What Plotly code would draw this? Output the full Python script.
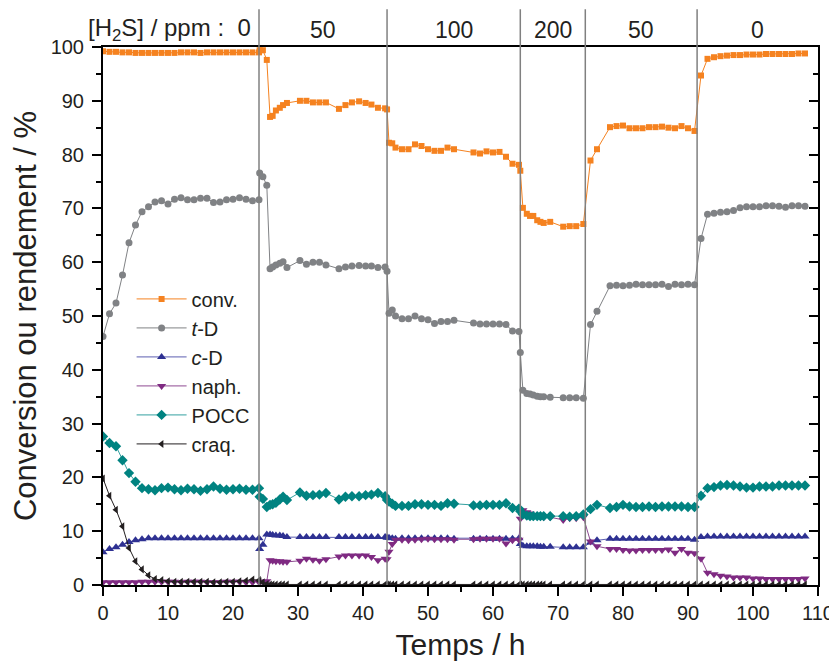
import plotly.graph_objects as go

# ---- data ----
temps = ([float(h) for h in range(0, 25)] +
         [24.1, 24.6, 25.2, 25.7, 26.1, 26.6, 27.2, 27.7, 28.3, 30.3, 31.3, 32.3, 33.3, 34.3,
          36.3, 37.3, 38.3, 39.4, 40.4, 41.3, 42.3, 43.4, 43.7] +
         [44.0, 44.5, 45, 46, 47, 48, 49, 50, 51, 52, 53, 54, 57, 58, 59, 60, 61, 62, 63, 64, 64.2] +
         [64.6, 65.2, 65.7, 66.2, 66.8, 67.3, 67.8, 68.8, 70.8, 71.8, 72.8, 73.9] +
         [75, 76, 78, 79, 80, 81, 82, 83, 84, 85, 86, 87, 88, 89, 90, 91] +
         [float(h) for h in range(92, 109)])

conv = ([99.2, 99.1, 99.1, 99.0, 99.0, 98.9, 98.9, 98.9, 98.9, 98.9, 98.9, 98.9, 99.0, 99.0, 99.0,
         98.9, 99.0, 99.0, 99.0, 99.0, 99.0, 99.0, 99.0, 99.0, 99.0] +
        [99.4, 99.4, 97.6, 87.0, 87.2, 88.2, 88.7, 89.2, 89.6, 90.0, 90.0, 89.7, 89.7, 89.7, 88.5,
         89.2, 89.7, 89.9, 89.6, 89.3, 88.7, 88.6, 88.4] +
        [82.2, 82.1, 81.3, 81.0, 81.0, 81.9, 81.6, 81.0, 80.7, 80.7, 81.3, 81.0, 80.4, 80.2, 80.6,
         80.4, 80.5, 79.6, 78.3, 78.1, 77.0] +
        [70.1, 69.0, 68.6, 68.6, 67.8, 67.5, 67.3, 67.5, 66.6, 66.7, 66.7, 67.1] +
        [78.9, 81.0, 85.1, 85.3, 85.4, 84.9, 84.9, 84.9, 85.1, 85.1, 85.2, 85.0, 84.9, 85.3, 84.9, 84.4] +
        [94.7, 97.8, 98.1, 98.3, 98.4, 98.5, 98.5, 98.6, 98.6, 98.6, 98.7, 98.7, 98.7, 98.7, 98.7, 98.8, 98.8])

t_D = ([46.2, 50.4, 52.4, 57.6, 63.6, 66.9, 69.4, 70.3, 71.2, 71.4, 70.8, 71.7, 72.0, 71.6, 71.6,
        71.9, 71.9, 71.1, 71.2, 71.6, 71.7, 72.0, 71.7, 71.4, 71.6] +
       [76.6, 75.9, 74.3, 58.8, 59.1, 59.5, 59.8, 60.1, 59.0, 60.3, 59.6, 60.0, 60.0, 59.5, 58.8,
        59.1, 59.3, 59.4, 59.3, 59.3, 59.0, 59.1, 58.3] +
       [50.5, 51.1, 50.0, 49.5, 49.5, 50.0, 49.5, 49.3, 48.6, 49.0, 49.0, 49.2, 48.7, 48.5, 48.5,
        48.5, 48.5, 48.4, 47.2, 47.1, 43.2] +
       [36.2, 35.6, 35.5, 35.3, 35.1, 35.0, 35.0, 34.9, 34.8, 34.8, 34.8, 34.7] +
       [48.4, 50.9, 55.6, 55.7, 55.6, 55.7, 55.9, 55.8, 55.8, 55.8, 55.9, 55.5, 55.9, 55.8, 55.9, 55.8] +
       [64.4, 68.9, 69.1, 69.3, 69.4, 69.6, 70.1, 70.3, 70.3, 70.3, 70.5, 70.5, 70.4, 70.2, 70.5, 70.5, 70.4])

c_D = ([6.1, 6.7, 7.0, 7.5, 8.0, 8.3, 8.5, 8.7, 8.7, 8.7, 8.7, 8.7, 8.7, 8.7, 8.7, 8.7, 8.7, 8.7,
        8.7, 8.7, 8.7, 8.7, 8.7, 8.7, 8.7] +
       [6.7, 7.5, 9.4, 9.4, 9.3, 9.2, 9.2, 9.1, 8.9, 8.9, 8.9, 8.9, 8.9, 8.9, 8.9, 8.9, 8.9, 8.9,
        8.9, 8.9, 8.9, 8.9, 8.8] +
       [8.8, 8.7, 8.6, 8.7, 8.7, 8.7, 8.7, 8.7, 8.7, 8.7, 8.7, 8.6, 8.6, 8.6, 8.6, 8.6, 8.6, 8.6,
        8.6, 8.7, 7.6] +
       [7.3, 7.2, 7.2, 7.2, 7.2, 7.1, 7.1, 7.1, 7.0, 7.0, 7.0, 7.0] +
       [7.9, 8.3, 8.6, 8.6, 8.6, 8.6, 8.6, 8.6, 8.6, 8.6, 8.6, 8.6, 8.6, 8.6, 8.6, 8.4] +
       [8.9, 9.0, 9.0, 9.0, 9.0, 9.0, 9.0, 9.0, 9.0, 9.0, 9.0, 9.0, 9.0, 9.0, 9.0, 9.0, 9.0])

naph = ([0.5, 0.5, 0.5, 0.5, 0.5, 0.5, 0.6, 0.6, 0.6, 0.6, 0.6, 0.6, 0.5, 0.6, 0.6, 0.6, 0.5, 0.5,
         0.5, 0.6, 0.6, 0.6, 0.5, 0.5, 0.5] +
        [0.6, 0.6, 0.7, 4.6, 4.5, 4.4, 4.4, 4.3, 4.3, 4.5, 4.9, 4.7, 4.5, 4.8, 5.3, 5.5, 5.5, 5.5,
         5.5, 5.2, 4.6, 4.9, 4.8] +
        [6.2, 7.6, 8.4, 8.4, 8.3, 8.4, 8.5, 8.6, 8.5, 8.5, 8.5, 8.4, 8.5, 8.6, 8.6, 8.6, 8.6, 7.7,
         8.3, 8.4, 12.3] +
        [13.9, 13.5, 13.3, 13.0, 12.8, 12.7, 12.6, 12.6, 12.1, 12.4, 12.4, 12.6] +
        [8.1, 7.2, 6.7, 6.7, 6.5, 6.4, 6.4, 6.5, 6.5, 6.5, 6.5, 6.6, 6.0, 6.7, 6.0, 5.9] +
        [4.9, 2.3, 2.0, 1.7, 1.6, 1.4, 1.4, 1.4, 1.2, 1.2, 1.1, 1.1, 1.1, 1.1, 1.1, 1.1, 1.2])

pocc = ([27.6, 26.4, 25.8, 23.2, 20.8, 19.2, 18.0, 17.8, 17.6, 18.0, 18.1, 17.8, 17.6, 17.9, 17.8,
         17.5, 17.8, 18.3, 17.9, 17.7, 17.8, 17.9, 17.7, 17.7, 18.0] +
        [16.4, 16.0, 14.5, 14.9, 15.0, 15.3, 15.9, 16.4, 15.8, 17.2, 16.6, 16.7, 16.8, 17.1, 15.9,
         16.4, 16.5, 16.5, 16.7, 16.8, 17.1, 16.5, 15.8] +
        [15.5, 15.1, 14.7, 14.7, 14.7, 15.0, 15.0, 14.9, 14.9, 14.7, 15.2, 15.1, 14.8, 14.8, 14.9,
         14.9, 14.9, 15.2, 14.3, 14.2, 13.7] +
        [13.1, 12.9, 12.8, 12.8, 12.8, 12.8, 12.8, 12.8, 12.8, 12.7, 12.8, 13.1] +
        [14.1, 14.9, 14.3, 14.5, 14.9, 14.6, 14.5, 14.5, 14.6, 14.5, 14.6, 14.6, 14.6, 14.6, 14.5, 14.5] +
        [16.6, 18.0, 18.2, 18.5, 18.6, 18.5, 18.3, 18.1, 18.1, 18.3, 18.3, 18.3, 18.5, 18.5, 18.5, 18.5, 18.5])

craq = ([19.8, 16.6, 14.0, 10.9, 6.9, 4.4, 2.9, 1.8, 1.1, 0.9, 0.7, 0.6, 0.6, 0.6, 0.6, 0.6, 0.6,
         0.5, 0.5, 0.6, 0.6, 0.7, 0.8, 1.0, 0.9] +
        [0.7, 0.5, 0.2] + [0.1] * 20 +
        [0.1] * 21 + [0.1] * 12 + [0.1] * 16 + [0.1] * 17)

# H2S concentration changes
changements_h2s = [24.0, 43.7, 64.2, 74.2, 91.4]
bornes = [0.0] + changements_h2s + [110.0]
niveaux_h2s = ["0", "50", "100", "200", "50", "0"]

# ---- figure ----
FONT = "Liberation Sans, Arial, sans-serif"
TXT = "#231F20"

series = [
    ("conv.", conv, "#F58220", "#F58220", "square", 6),
    ("<i>t</i>-D", t_D, "#808285", "#808285", "circle", 7),
    ("<i>c</i>-D", c_D, "#2E3192", "#5B5EB0", "triangle-up", 8),
    ("naph.", naph, "#7F2A82", "#8E4A91", "triangle-down", 8),
    ("POCC", pocc, "#008381", "#33A0A0", "diamond", 8),
    ("craq.", craq, "#231F20", "#231F20", "triangle-left", 7),
]

fig = go.Figure()
for name, vals, mcol, lcol, sym, size in series:
    fig.add_trace(go.Scatter(
        x=temps, y=vals, name=name, mode="lines+markers",
        line=dict(color=lcol, width=1),
        marker=dict(symbol=sym, size=size, color=mcol, line=dict(width=0)),
    ))

# right-side inward ticks
fig.add_trace(go.Scatter(x=temps[:1], y=conv[:1], yaxis="y2", mode="markers",
                         marker=dict(opacity=0), showlegend=False, hoverinfo="skip"))

for xv in changements_h2s:
    fig.add_shape(type="line", xref="x", yref="paper", x0=xv, x1=xv, y0=0, y1=1.07,
                  line=dict(color="#808080", width=1.5), layer="above")

fig.add_annotation(x=bornes[1], y=1.032, xref="x", yref="paper", xanchor="right", yanchor="middle",
                   xshift=-6, showarrow=False,
                   text="[H<sub>2</sub>S] / ppm :  " + niveaux_h2s[0],
                   font=dict(family=FONT, size=24, color=TXT))
for i in range(1, len(niveaux_h2s)):
    fig.add_annotation(x=(bornes[i] + bornes[i + 1]) / 2, y=1.032, xref="x", yref="paper",
                       xanchor="center", yanchor="middle", showarrow=False,
                       text=niveaux_h2s[i], font=dict(family=FONT, size=23, color=TXT))

# the page body adds an 8 px offset; margins are shifted accordingly
fig.update_layout(
    width=837, height=660,
    margin=dict(l=95, r=27, t=39, b=83, autoexpand=False),
    paper_bgcolor="white", plot_bgcolor="white",
    font=dict(family=FONT, size=20, color=TXT),
    showlegend=True,
    legend=dict(x=0.04, y=0.568, xanchor="left", yanchor="top", bgcolor="rgba(0,0,0,0)",
                font=dict(family=FONT, size=20, color=TXT), itemwidth=50, tracegroupgap=0),
    xaxis=dict(range=[0, 110], dtick=10, tick0=0, showgrid=False, zeroline=False, automargin=False,
               showline=True, linecolor="black", linewidth=2, mirror=True,
               ticks="outside", ticklen=9, tickwidth=1.5, tickcolor="black",
               minor=dict(dtick=5, ticks="outside", ticklen=5, tickwidth=1.5, tickcolor="black"),
               tickfont=dict(size=20),
               title=dict(text="Temps / h", font=dict(size=30), standoff=11)),
    yaxis=dict(range=[0, 100], dtick=10, tick0=0, showgrid=False, zeroline=False, automargin=False,
               showline=True, linecolor="black", linewidth=2, mirror=True,
               ticks="outside", ticklen=9, tickwidth=1.5, tickcolor="black",
               minor=dict(dtick=5, ticks="outside", ticklen=5, tickwidth=1.5, tickcolor="black"),
               tickfont=dict(size=20), ticklabelstandoff=4,
               title=dict(text="Conversion ou rendement / %", font=dict(size=31), standoff=17)),
    yaxis2=dict(range=[0, 100], overlaying="y", side="right", dtick=10, tick0=0, automargin=False,
                showgrid=False, zeroline=False, showline=False, showticklabels=False,
                ticks="inside", ticklen=9, tickwidth=1.5, tickcolor="black",
                minor=dict(dtick=5, ticks="inside", ticklen=5, tickwidth=1.5, tickcolor="black")),
)

fig.write_html("out.html")
